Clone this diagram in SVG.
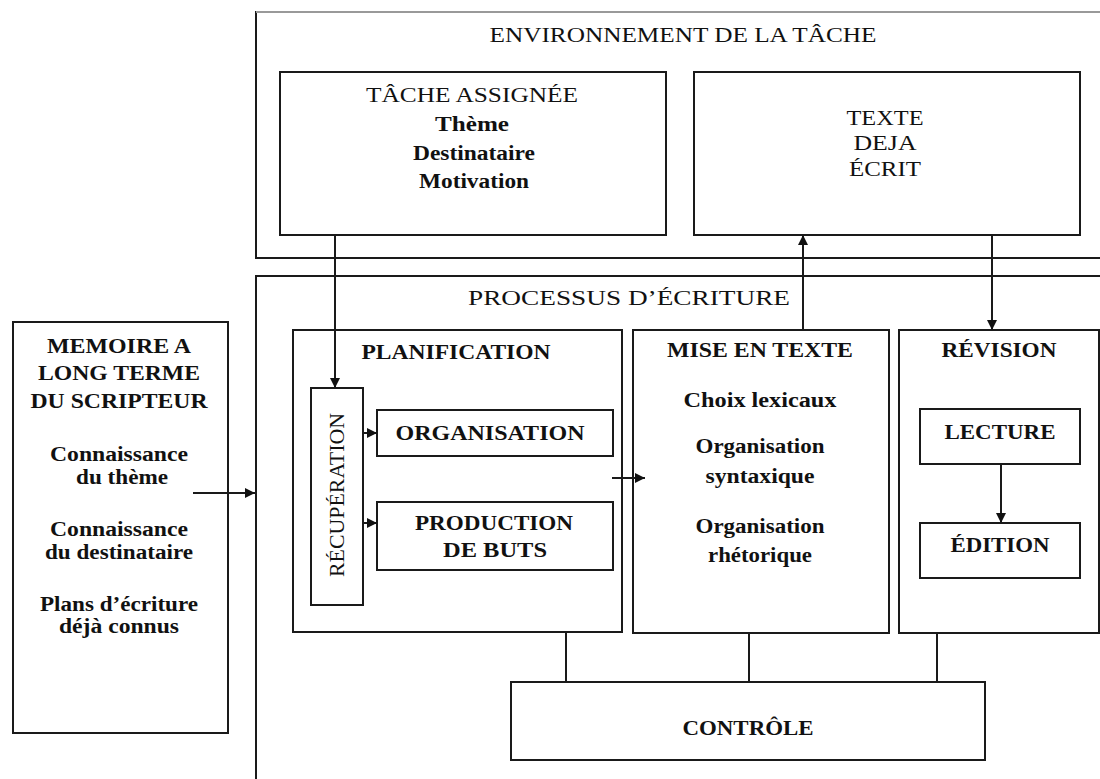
<svg xmlns="http://www.w3.org/2000/svg" width="1100" height="779" viewBox="0 0 1100 779">
<defs>
<style>
.box{fill:none;stroke:#1a1a1a;stroke-width:2}
.frame{fill:none;stroke:#1a1a1a;stroke-width:2}
.con{fill:none;stroke:#1a1a1a;stroke-width:2}
text{font-family:"Liberation Serif","Times New Roman",serif;font-size:20px;fill:#111;text-anchor:middle}
.b{font-weight:bold}
</style>
<marker id="ah" viewBox="0 0 10 10" refX="10" refY="5" markerWidth="11" markerHeight="10" markerUnits="userSpaceOnUse" orient="auto">
<path d="M0,0 L10,5 L0,10 Z" fill="#111"/>
</marker>
</defs>
<rect width="1100" height="779" fill="#fff"/>

<g id="environnement">
<path class="frame" d="M1101,12 H256 V258 H1101"/>
<path d="M256,12 H1101" stroke="#999" stroke-width="2"/>
<text x="683" y="42" textLength="387" lengthAdjust="spacingAndGlyphs">ENVIRONNEMENT DE LA TÂCHE</text>
</g>

<g id="tache-assignee">
<rect class="box" x="280" y="72" width="386" height="163"/>
<text x="472" y="102" textLength="212" lengthAdjust="spacingAndGlyphs">TÂCHE ASSIGNÉE</text>
<text class="b" x="472" y="131" textLength="74" lengthAdjust="spacingAndGlyphs">Thème</text>
<text class="b" x="474" y="160" textLength="122" lengthAdjust="spacingAndGlyphs">Destinataire</text>
<text class="b" x="474" y="188" textLength="110" lengthAdjust="spacingAndGlyphs">Motivation</text>
</g>

<g id="texte-deja-ecrit">
<rect class="box" x="694" y="72" width="386" height="163"/>
<text x="885" y="125" textLength="77" lengthAdjust="spacingAndGlyphs">TEXTE</text>
<text x="885" y="150" textLength="63" lengthAdjust="spacingAndGlyphs">DEJA</text>
<text x="885" y="176" textLength="72" lengthAdjust="spacingAndGlyphs">ÉCRIT</text>
</g>

<g id="processus">
<path class="frame" d="M1101,276 H256 V780"/>
<text x="629" y="305" textLength="322" lengthAdjust="spacingAndGlyphs">PROCESSUS D’ÉCRITURE</text>
</g>

<g id="memoire">
<rect class="box" x="13" y="322" width="215" height="411"/>
<text class="b" x="119" y="353" textLength="144" lengthAdjust="spacingAndGlyphs">MEMOIRE A</text>
<text class="b" x="119" y="380" textLength="162" lengthAdjust="spacingAndGlyphs">LONG TERME</text>
<text class="b" x="119" y="408" textLength="177" lengthAdjust="spacingAndGlyphs">DU SCRIPTEUR</text>
<text class="b" x="119" y="461" textLength="138" lengthAdjust="spacingAndGlyphs">Connaissance</text>
<text class="b" x="122" y="484" textLength="92" lengthAdjust="spacingAndGlyphs">du thème</text>
<text class="b" x="119" y="536" textLength="138" lengthAdjust="spacingAndGlyphs">Connaissance</text>
<text class="b" x="119" y="559" textLength="148" lengthAdjust="spacingAndGlyphs">du destinataire</text>
<text class="b" x="119" y="611" textLength="158" lengthAdjust="spacingAndGlyphs">Plans d’écriture</text>
<text class="b" x="119" y="633" textLength="120" lengthAdjust="spacingAndGlyphs">déjà connus</text>
</g>

<g id="planification">
<rect class="box" x="293" y="330" width="329" height="302"/>
<text class="b" x="456" y="359" textLength="189" lengthAdjust="spacingAndGlyphs">PLANIFICATION</text>
</g>

<g id="recuperation">
<rect class="box" x="311" y="388" width="52" height="217"/>
<text x="0" y="0" transform="translate(344,495) rotate(-90)" textLength="164" lengthAdjust="spacingAndGlyphs">RÉCUPÉRATION</text>
</g>

<g id="organisation">
<rect class="box" x="377" y="410" width="236" height="46"/>
<text class="b" x="490" y="440" textLength="189" lengthAdjust="spacingAndGlyphs">ORGANISATION</text>
</g>

<g id="production-de-buts">
<rect class="box" x="377" y="502" width="236" height="68"/>
<text class="b" x="494" y="530" textLength="158" lengthAdjust="spacingAndGlyphs">PRODUCTION</text>
<text class="b" x="495" y="557" textLength="104" lengthAdjust="spacingAndGlyphs">DE BUTS</text>
</g>

<g id="mise-en-texte">
<rect class="box" x="633" y="330" width="256" height="303"/>
<text class="b" x="760" y="357" textLength="186" lengthAdjust="spacingAndGlyphs">MISE EN TEXTE</text>
<text class="b" x="760" y="407" textLength="153" lengthAdjust="spacingAndGlyphs">Choix lexicaux</text>
<text class="b" x="760" y="453" textLength="129" lengthAdjust="spacingAndGlyphs">Organisation</text>
<text class="b" x="760" y="483" textLength="109" lengthAdjust="spacingAndGlyphs">syntaxique</text>
<text class="b" x="760" y="533" textLength="129" lengthAdjust="spacingAndGlyphs">Organisation</text>
<text class="b" x="760" y="562" textLength="104" lengthAdjust="spacingAndGlyphs">rhétorique</text>
</g>

<g id="revision">
<rect class="box" x="899" y="330" width="200" height="303"/>
<text class="b" x="999" y="357" textLength="115" lengthAdjust="spacingAndGlyphs">RÉVISION</text>
</g>

<g id="lecture">
<rect class="box" x="920" y="409" width="160" height="55"/>
<text class="b" x="1000" y="439" textLength="111" lengthAdjust="spacingAndGlyphs">LECTURE</text>
</g>

<g id="edition">
<rect class="box" x="920" y="523" width="160" height="55"/>
<text class="b" x="1000" y="552" textLength="99" lengthAdjust="spacingAndGlyphs">ÉDITION</text>
</g>

<g id="controle">
<rect class="box" x="511" y="682" width="474" height="78"/>
<text class="b" x="748" y="735" textLength="131" lengthAdjust="spacingAndGlyphs">CONTRÔLE</text>
</g>

<g id="connectors">
<path class="con" d="M335,235 V388" marker-end="url(#ah)"/>
<path class="con" d="M193,493 H255" marker-end="url(#ah)"/>
<path class="con" d="M363,433 H377" marker-end="url(#ah)"/>
<path class="con" d="M363,523 H377" marker-end="url(#ah)"/>
<path class="con" d="M612,478 H645" marker-end="url(#ah)"/>
<path class="con" d="M803,330 V235" marker-end="url(#ah)"/>
<path class="con" d="M992,235 V330" marker-end="url(#ah)"/>
<path class="con" d="M1001,464 V523" marker-end="url(#ah)"/>
<path class="con" d="M566,633 V682"/>
<path class="con" d="M749,633 V682"/>
<path class="con" d="M937,633 V682"/>
</g>
</svg>
